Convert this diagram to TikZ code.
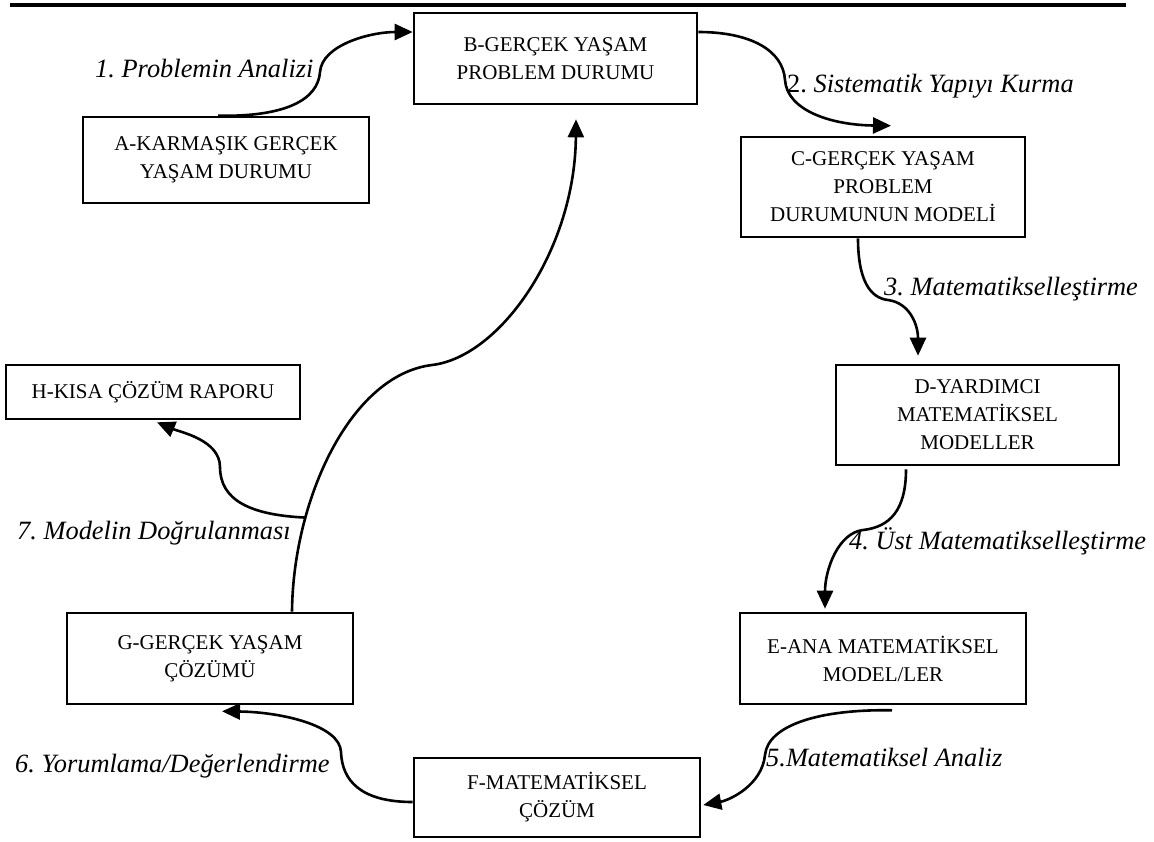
\documentclass[tikz,border=0pt]{standalone}
\usepackage{fontspec}
\setmainfont{Liberation Serif}
\usetikzlibrary{arrows.meta}
\frenchspacing
\begin{document}
\begin{tikzpicture}[x=1pt,y=-1pt,
  box/.style={draw, line width=2.6pt, align=center, inner sep=0pt, font=\fontsize{21}{28}\selectfont},
  lbl/.style={anchor=base west, inner sep=0pt, font=\fontsize{26.4}{30}\selectfont\itshape},
  conn/.style={line width=2.6pt, -{Triangle[length=18pt,width=16pt]}}]
\useasboundingbox (0,0) rectangle (1154,841);
\draw[line width=3.6pt] (10,5) -- (1126,5);
% boxes
\node[box, minimum width=286pt, minimum height=86pt] (A) at (226,160) {A-KARMAŞIK GERÇEK\\YAŞAM DURUMU};
\node[box, minimum width=283pt, minimum height=91pt] (B) at (555.5,58.5) {B-GERÇEK YAŞAM\\PROBLEM DURUMU};
\node[box, minimum width=284pt, minimum height=100pt] (C) at (883,187) {C-GERÇEK YAŞAM\\PROBLEM\\DURUMUNUN MODELİ};
\node[box, minimum width=283pt, minimum height=100pt] (D) at (977.5,415) {D-YARDIMCI\\MATEMATİKSEL\\MODELLER};
\node[box, minimum width=286pt, minimum height=91pt] (E) at (883,658.5) {E-ANA MATEMATİKSEL\\MODEL/LER};
\node[box, minimum width=286pt, minimum height=79pt] (F) at (557,797.5) {F-MATEMATİKSEL\\ÇÖZÜM};
\node[box, minimum width=286pt, minimum height=91pt] (G) at (210,658.5) {G-GERÇEK YAŞAM\\ÇÖZÜMÜ};
\node[box, minimum width=294pt, minimum height=54pt] (H) at (153,392) {H-KISA ÇÖZÜM RAPORU};
% labels
\node[lbl] (l1) at (95,77) {1. Problemin Analizi};
\node[lbl] (l2) at (787,92) {{\upshape 2.} Sistematik Yapıyı Kurma};
\node[lbl] (l3) at (884,295) {3. Matematikselleştirme};
\node[lbl] (l4) at (849,549) {4. Üst Matematikselleştirme};
\node[lbl] (l5) at (766,766) {5.Matematiksel Analiz};
\node[lbl] (l6) at (15,772) {6. Yorumlama/Değerlendirme};
\node[lbl] (l7) at (17,539) {7. Modelin Doğrulanması};
% connectors
\draw[conn] ([xshift=-8pt]A.north) .. controls (285,117) and (318,100) .. (320,72) .. controls (322,45) and (370,32) .. ([yshift=26.5pt]B.west);
\draw[conn] ([yshift=26.5pt]B.east) .. controls (750,32) and (783,50) .. (785,80) .. controls (787,110) and (830,125) .. ([xshift=8pt,yshift=10pt]C.north);
\draw[conn] ([xshift=-25pt]C.south) .. controls (858,280) and (870,298) .. (888,300) .. controls (910,303) and (918,325) .. ([xshift=-59.5pt,yshift=8pt]D.north);
\draw[conn] ([xshift=-71.5pt,yshift=-3pt]D.south) .. controls (906,510) and (890,527) .. (863,530) .. controls (838,533) and (825,570) .. ([xshift=-58pt,yshift=3pt]E.north);
\draw[conn] ([xshift=9pt,yshift=-5pt]E.south) .. controls (820,709) and (768,725) .. (765,755) .. controls (762,785) and (730,800) .. ([xshift=2pt,yshift=-7.5pt]F.east);
\draw[conn] ([yshift=-4.5pt]F.west) .. controls (360,802) and (342,780) .. (341,752) .. controls (340,725) and (280,712) .. ([xshift=12pt,yshift=-6pt]G.south);
\draw[conn] ([xshift=82pt]G.north) .. controls (293,500) and (350,375) .. coordinate[pos=0.28] (br) (432,365) .. controls (500,357) and (575,250) .. ([xshift=20.5pt,yshift=-14pt]B.south);
\draw[conn] (br) .. controls (250,515) and (220,500) .. (220,467) .. controls (220,440) and (180,432) .. ([xshift=4pt,yshift=-2pt]H.south);
\end{tikzpicture}
\end{document}
